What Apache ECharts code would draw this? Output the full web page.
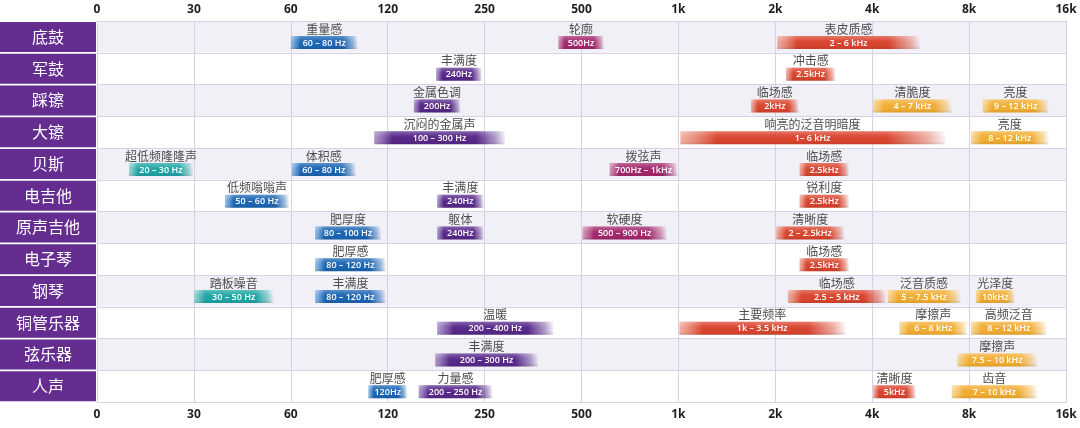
<!DOCTYPE html>
<html>
<head>
<meta charset="utf-8">
<script src="https://cdn.jsdelivr.net/npm/echarts@6/dist/echarts.min.js"></script>
<style>
html,body{margin:0;padding:0;background:#fff;}
#chart{width:1080px;height:428px;}
</style>
</head>
<body>
<div id="chart"></div>
<script>
// Instruments (rows, top to bottom)
const rows = ['底鼓','军鼓','踩镲','大镲','贝斯','电吉他','原声吉他','电子琴','钢琴','铜管乐器','弦乐器','人声'];
// Frequency tick labels (equally spaced octave-style scale, axis positions 0..10)
const tickLabels = ['0','30','60','120','250','500','1k','2k','4k','8k','16k'];
// Bars: [row index, start (axis position), end (axis position), character, frequency range, band]
const bars = [
  [0, 2.00, 2.69, '重量感', '60 – 80 Hz', 'bass'],
  [0, 4.76, 5.23, '轮廓', '500Hz', 'mid'],
  [0, 7.02, 8.49, '表皮质感', '2 – 6 kHz', 'presence'],
  [1, 3.50, 3.97, '丰满度', '240Hz', 'lowmid'],
  [1, 7.11, 7.62, '冲击感', '2.5kHz', 'presence'],
  [2, 3.27, 3.75, '金属色调', '200Hz', 'lowmid'],
  [2, 6.75, 7.24, '临场感', '2kHz', 'presence'],
  [2, 8.01, 8.82, '清脆度', '4 – 7 kHz', 'brilliance'],
  [2, 9.14, 9.82, '亮度', '9 – 12 kHz', 'brilliance'],
  [3, 2.86, 4.21, '沉闷的金属声', '100 – 300 Hz', 'lowmid'],
  [3, 6.02, 8.75, '响亮的泛音明暗度', '1– 6 kHz', 'presence'],
  [3, 9.02, 9.82, '亮度', '8 – 12 kHz', 'brilliance'],
  [4, 0.33, 0.99, '超低频隆隆声', '20 – 30 Hz', 'sub'],
  [4, 2.01, 2.67, '体积感', '60 – 80 Hz', 'bass'],
  [4, 5.29, 5.99, '拨弦声', '700Hz – 1kHz', 'mid'],
  [4, 7.25, 7.76, '临场感', '2.5kHz', 'presence'],
  [5, 1.32, 1.98, '低频嗡嗡声', '50 – 60 Hz', 'bass'],
  [5, 3.51, 3.99, '丰满度', '240Hz', 'lowmid'],
  [5, 7.25, 7.76, '锐利度', '2.5kHz', 'presence'],
  [6, 2.25, 2.93, '肥厚度', '80 – 100 Hz', 'bass'],
  [6, 3.51, 3.99, '躯体', '240Hz', 'lowmid'],
  [6, 5.01, 5.88, '软硬度', '500 – 900 Hz', 'mid'],
  [6, 7.01, 7.71, '清晰度', '2 – 2.5kHz', 'presence'],
  [7, 2.25, 2.98, '肥厚感', '80 – 120 Hz', 'bass'],
  [7, 7.25, 7.76, '临场感', '2.5kHz', 'presence'],
  [8, 1.00, 1.82, '踏板噪音', '30 – 50 Hz', 'sub'],
  [8, 2.25, 2.98, '丰满度', '80 – 120 Hz', 'bass'],
  [8, 7.13, 8.14, '临场感', '2.5 – 5 kHz', 'presence'],
  [8, 8.16, 8.91, '泛音质感', '5 – 7.5 kHz', 'brilliance'],
  [8, 9.07, 9.47, '光泽度', '10kHz', 'brilliance'],
  [9, 3.51, 4.71, '温暖', '200 – 400 Hz', 'lowmid'],
  [9, 6.01, 7.72, '主要频率', '1k – 3.5 kHz', 'presence'],
  [9, 8.28, 8.98, '摩擦声', '6 – 8 kHz', 'brilliance'],
  [9, 9.02, 9.80, '高频泛音', '8 – 12 kHz', 'brilliance'],
  [10, 3.49, 4.55, '丰满度', '200 – 300 Hz', 'lowmid'],
  [10, 8.88, 9.70, '摩擦声', '7.5 – 10 kHz', 'brilliance'],
  [11, 2.80, 3.20, '肥厚感', '120Hz', 'bass'],
  [11, 3.32, 4.08, '力量感', '200 – 250 Hz', 'lowmid'],
  [11, 8.01, 8.45, '清晰度', '5kHz', 'presence'],
  [11, 8.82, 9.70, '齿音', '7 – 10 kHz', 'brilliance']
];
// Band colours: [main, light end]
const bandColors = {
  sub: ['#1fa6a6', '#7fd0cc'],
  bass: ['#1b66b4', '#79aee2'],
  lowmid: ['#57288a', '#9a7cc0'],
  mid: ['#a3286c', '#cf7aa6'],
  presence: ['#da452f', '#ef9a86'],
  brilliance: ['#f3ae32', '#f8cf7c']
};

function hexA(hex, a) {
  const n = parseInt(hex.slice(1), 16);
  return 'rgba(' + ((n >> 16) & 255) + ',' + ((n >> 8) & 255) + ',' + (n & 255) + ',' + a + ')';
}

const chart = echarts.init(document.getElementById('chart'));
const gridLine = '#d7d0e8';
const axisFont = { color: '#1e1e1e', fontSize: 12, fontWeight: 'bold', fontFamily: 'Open Sans' };

chart.setOption({
  animation: false,
  backgroundColor: '#ffffff',
  grid: { left: 97, right: 14, top: 21, bottom: 26, containLabel: false, outerBoundsMode: 'none' },
  xAxis: [
    {
      type: 'value', position: 'top', min: 0, max: 10, interval: 1,
      axisLine: { show: true, lineStyle: { color: gridLine } },
      axisTick: { show: false },
      splitLine: { show: true, lineStyle: { color: gridLine, width: 1 } },
      axisLabel: Object.assign({ margin: 5, formatter: v => tickLabels[Math.round(v)] }, axisFont)
    },
    {
      type: 'value', position: 'bottom', min: 0, max: 10, interval: 1,
      axisLine: { show: true, lineStyle: { color: gridLine } },
      axisTick: { show: false },
      splitLine: { show: false },
      axisLabel: Object.assign({ margin: 7, formatter: v => tickLabels[Math.round(v)] }, axisFont)
    }
  ],
  yAxis: {
    type: 'category', data: rows, inverse: true,
    axisLine: { show: false }, axisTick: { show: false },
    splitLine: { show: true, lineStyle: { color: gridLine, width: 1 } },
    splitArea: { show: true, areaStyle: { color: ['#f2f0f7', '#ffffff'] } },
    axisLabel: {
      margin: 1, align: 'right',
      formatter: v => '{a|' + v + '}',
      rich: {
        a: {
          width: 96, height: 30, lineHeight: 30, align: 'center',
          backgroundColor: '#662d91', color: '#ffffff', fontSize: 16,
          fontFamily: 'Noto Sans CJK SC'
        }
      }
    }
  },
  series: [{
    type: 'custom',
    xAxisIndex: 0,
    yAxisIndex: 0,
    data: bars.map(b => [b[0], b[1], b[2]]),
    encode: { x: [1, 2], y: 0 },
    renderItem: function (params, api) {
      const b = bars[params.dataIndex];
      const r = api.value(0);
      const p0 = api.coord([api.value(1), r]);
      const p1 = api.coord([api.value(2), r]);
      const bandH = api.size([0, 1])[1];
      const rowTop = p0[1] - bandH / 2;
      const top = rowTop + 15;
      const h = 13;
      const x = p0[0], w = p1[0] - p0[0];
      const c = bandColors[b[5]];
      const fill = new echarts.graphic.LinearGradient(0, 0, 1, 0, [
        { offset: 0, color: hexA(c[1], 0.75) },
        { offset: 0.14, color: c[0] },
        { offset: 0.78, color: c[0] },
        { offset: 0.93, color: hexA(c[0], 0.45) },
        { offset: 1, color: hexA(c[0], 0.05) }
      ]);
      const gloss = new echarts.graphic.LinearGradient(0, 0, 0, 1, [
        { offset: 0, color: 'rgba(255,255,255,0.28)' },
        { offset: 0.35, color: 'rgba(255,255,255,0.05)' },
        { offset: 0.7, color: 'rgba(0,0,0,0)' },
        { offset: 1, color: 'rgba(0,0,0,0.10)' }
      ]);
      return {
        type: 'group',
        children: [
          { type: 'rect', shape: { x: x, y: top, width: w, height: h }, style: { fill: fill } },
          { type: 'rect', shape: { x: x, y: top, width: w, height: h }, style: { fill: gloss } },
          {
            type: 'text',
            style: {
              x: x + w / 2, y: top + h / 2 + 0.5, text: b[4],
              fill: '#ffffff', font: '600 9px "Open Sans", sans-serif',
              align: 'center', verticalAlign: 'middle'
            }
          },
          {
            type: 'text',
            style: {
              x: x + w / 2, y: rowTop + 8, text: b[3],
              fill: '#4d4d4d', font: '12px "Noto Sans CJK SC", sans-serif',
              align: 'center', verticalAlign: 'middle'
            }
          }
        ]
      };
    }
  }]
});
</script>
</body>
</html>
